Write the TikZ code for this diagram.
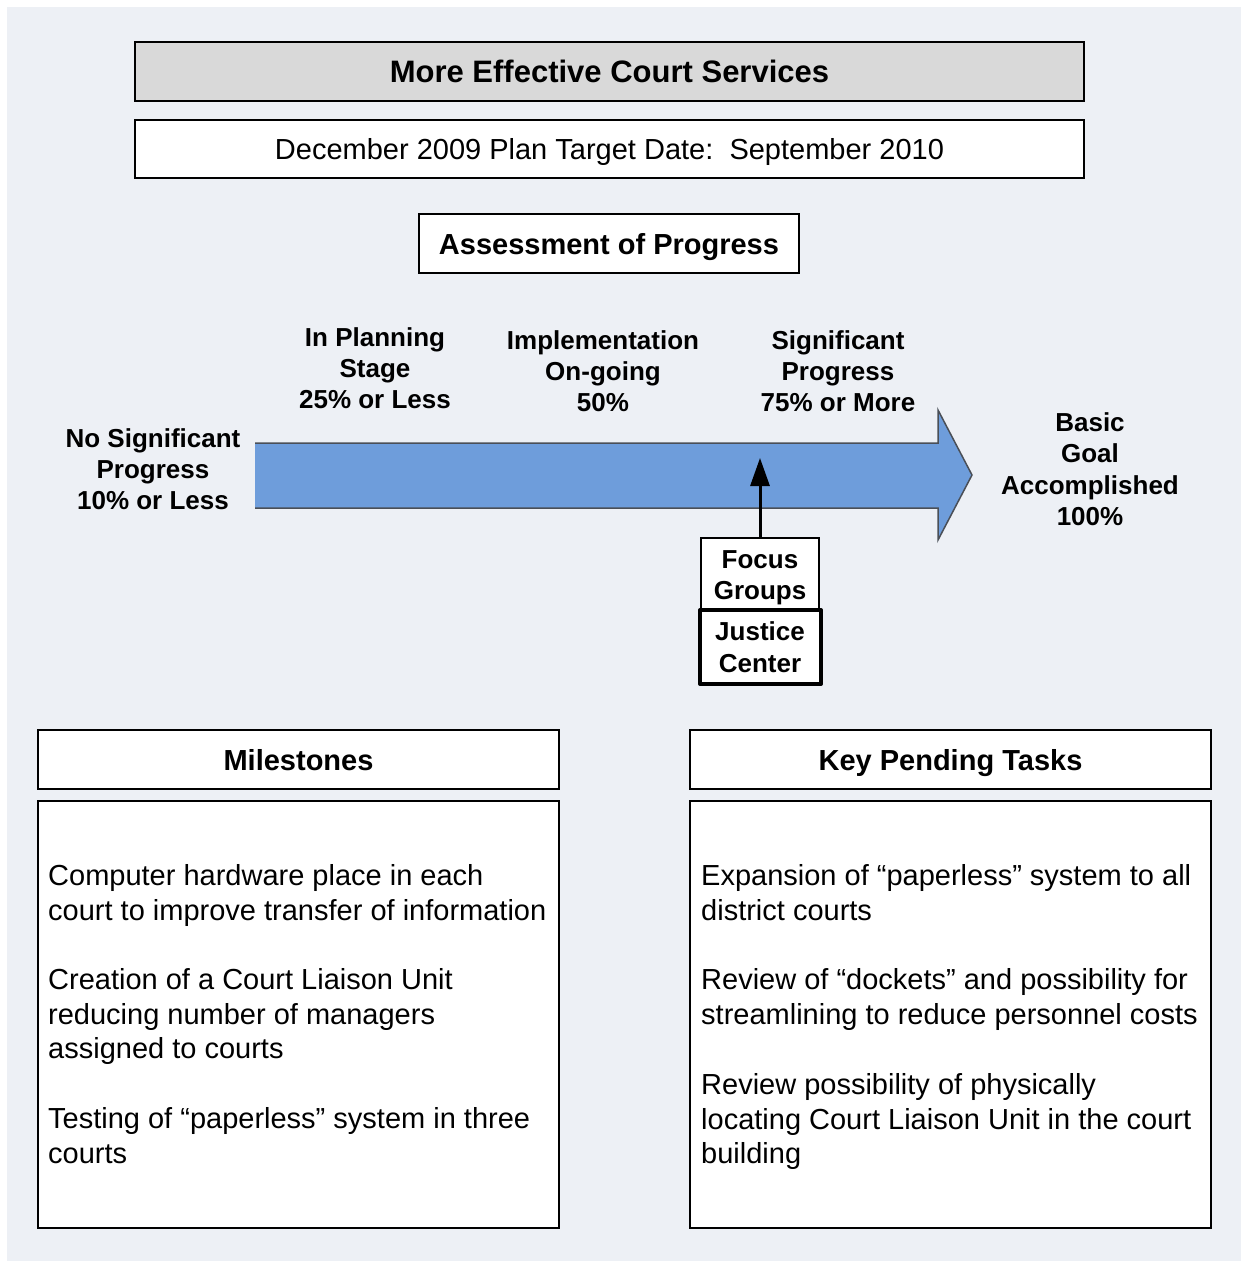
\documentclass[tikz,border=0pt]{standalone}
\usepackage{fontspec}
\setmainfont{Liberation Sans}
\usetikzlibrary{arrows.meta}
\definecolor{pagebg}{HTML}{EDF0F5}
\definecolor{titlegray}{HTML}{D9D9D9}
\definecolor{arrowblue}{HTML}{6E9DDB}
\definecolor{arrowedge}{HTML}{4A4F57}
\begin{document}
\begin{tikzpicture}[x=1pt,y=-1pt,
  box/.style={draw=black,line width=2pt,fill=white},
  titlefont/.style={font=\fontsize{31}{37}\selectfont\bfseries,text depth=0pt},
  headfont/.style={font=\fontsize{29}{35}\selectfont\bfseries,text depth=0pt},
  bodyfont/.style={font=\fontsize{29}{34.8}\selectfont},
  stagelabel/.style={align=center,inner sep=0pt,text depth=0pt,font=\fontsize{26}{31.4}\selectfont\bfseries},
  paragraph/.style={anchor=north west,align=left,inner sep=0pt,bodyfont}]
\useasboundingbox (0,0) rectangle (1241,1261);
\fill[pagebg] (7,7) rectangle (1260,1280);

% header boxes
\draw[box,fill=titlegray] (135,42) rectangle (1084,101);
\node[titlefont] (title) at (609.5,71.5) {More Effective Court Services};
\draw[box] (135,120) rectangle (1084,178);
\node[bodyfont,text depth=0pt] (target) at (609.5,149) {December 2009 Plan Target Date:\ \ September 2010};
\draw[box] (419,214) rectangle (799,273);
\node[headfont] (assess) at (609,243.5) {Assessment of Progress};

% progress arrow
\fill[arrowblue] (255,443) -- (938,443) -- (938,410) -- (972,475) -- (938,540) -- (938,508) -- (255,508) -- cycle;
\draw[arrowedge,line width=1.5pt,line join=miter]
  (255,443) -- (938,443) -- (938,410) -- (972,475) -- (938,540) -- (938,508) -- (255,508);
\coordinate (mark) at (760,458);

% stage labels
\node[stagelabel] (s0) at (153,469) {No Significant\\Progress\\10\% or Less};
\node[stagelabel] (s1) at (375,368) {In Planning\\Stage\\25\% or Less};
\node[stagelabel] (s2) at (603,371) {Implementation\\On-going\\50\%};
\node[stagelabel] (s3) at (838,371) {Significant\\Progress\\75\% or More};
\node[stagelabel] (s4) at (1090,469) {Basic\\Goal\\Accomplished\\100\%};

% current position
\draw[box] (701,538) rectangle (819,610);
\node[stagelabel] (focus) at (760,575) {Focus\\Groups};
\draw[draw=black,line width=4pt,fill=white,line join=round] (700,610) rectangle (821,684);
\node[stagelabel] (justice) at (760,647) {Justice\\Center};
\draw[line width=3pt,-{Triangle[width=19pt,length=28pt]}] (760,538) -- (mark);

% milestones
\draw[box] (38,730) rectangle (559,789);
\node[headfont] (mhead) at (298.5,759.5) {Milestones};
\draw[box] (38,801) rectangle (559,1228);
\node[paragraph] (m1) at (48,864) {Computer hardware place in each\\court to improve transfer of information};
\node[paragraph] (m2) at (48,968) {Creation of a Court Liaison Unit\\reducing number of managers\\assigned to courts};
\node[paragraph] (m3) at (48,1107) {Testing of “paperless” system in three\\courts};

% pending tasks
\draw[box] (690,730) rectangle (1211,789);
\node[headfont] (khead) at (950.5,759.5) {Key Pending Tasks};
\draw[box] (690,801) rectangle (1211,1228);
\node[paragraph] (k1) at (701,864) {Expansion of “paperless” system to all\\district courts};
\node[paragraph] (k2) at (701,968) {Review of “dockets” and possibility for\\streamlining to reduce personnel costs};
\node[paragraph] (k3) at (701,1073) {Review possibility of physically\\locating Court Liaison Unit in the court\\building};
\end{tikzpicture}
\end{document}
